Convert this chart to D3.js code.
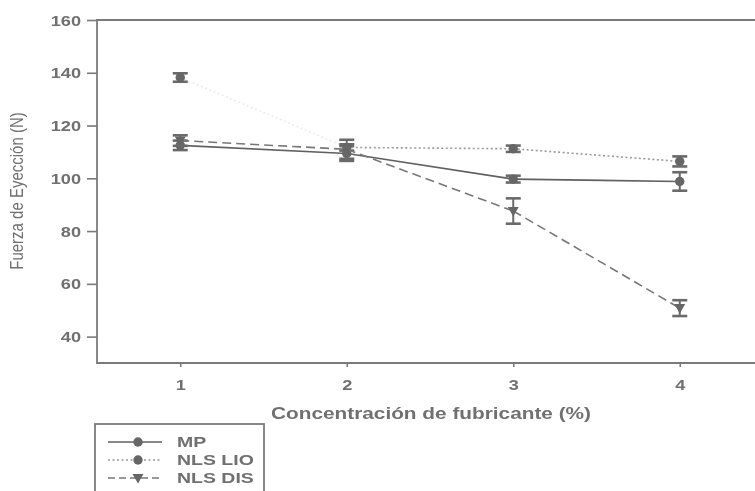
<!DOCTYPE html>
<html lang="en">
    <head>
        <meta charset="utf-8">
        <title>Fuerza de Eyección</title>
        <script src="https://d3js.org/d3.v7.min.js"></script>
        <style type="text/css">
        body { margin: 0; background: #fff; }
        text { font-family: "Liberation Sans", Arial, sans-serif; font-weight: bold; fill: #707070; }
        </style>
    </head>
    <body>
        <script type="text/javascript">

//1. data
const concentrations = [1, 2, 3, 4];
const seriesNames = ["MP", "NLS LIO", "NLS DIS"];
const mpValues  = [112.5, 109.4, 99.7, 98.8];
const mpErrors  = [1.8, 2.8, 1.3, 3.5];
const lioValues = [138.2, 111.7, 111.2, 106.4];
const lioErrors = [1.6, 1.2, 1.2, 1.9];
const disValues = [114.3, 111.0, 87.6, 50.8];
const disErrors = [2.0, 3.6, 4.8, 3.0];
const yTicks = [40, 60, 80, 100, 120, 140, 160];

//2. consts
const svgWidth = 755;
const svgHeight = 491;
const plotLeft = 97, plotTop = 20, plotBottom = 363, plotRight = 763;
const ink = "#6e6e6e";
const stretch = 1.3; // the scanned figure is wider than tall, text included

const series = [
    {name: seriesNames[0], values: mpValues,  errors: mpErrors,  dash: null,  color: "#606060", shape: d3.symbolCircle},
    {name: seriesNames[1], values: lioValues, errors: lioErrors, dash: "2,2.5", color: "#9a9a9a", shape: d3.symbolCircle},
    {name: seriesNames[2], values: disValues, errors: disErrors, dash: "9,5", color: "#777777", shape: "triangle"}
];

//3. scales
const xScale = d3.scaleLinear().domain([0.5, 4.5]).range([plotLeft, plotRight]);
const yScale = d3.scaleLinear().domain([30, 160]).range([plotBottom, plotTop]);

//4. svg
const svg = d3.select("body").append("svg")
    .attr("width", svgWidth)
    .attr("height", svgHeight);

const defs = svg.append("defs");
defs.append("filter").attr("id", "soft")
    .append("feGaussianBlur").attr("stdDeviation", 0.45);

const g = svg.append("g").attr("filter", "url(#soft)");

//5. axes
const leftAxis = d3.axisLeft(yScale).tickValues(yTicks).tickSize(10);
const yAxisG = g.append("g")
    .attr("transform", "translate(" + plotLeft + ",0)")
    .call(leftAxis);

const bottomAxis = d3.axisBottom(xScale).tickValues(concentrations)
    .tickFormat(d3.format("d")).tickSize(4).tickPadding(13);
const xAxisG = g.append("g")
    .attr("transform", "translate(0," + plotBottom + ")")
    .call(bottomAxis);

[yAxisG, xAxisG].forEach(a => {
    a.select(".domain").remove();
    a.selectAll("line").attr("stroke", "#7a7a7a").attr("stroke-width", 1.6);
    a.selectAll("text").attr("font-size", "14px").attr("fill", ink)
        .style("font-family", "'Liberation Sans', Arial, sans-serif")
        .attr("transform", "scale(" + stretch + ",1)");
});
yAxisG.selectAll("text").attr("x", -16 / stretch).attr("dy", "0.36em");

//frame (top, left, bottom)
g.append("path")
    .attr("d", "M" + plotRight + "," + plotTop + "H" + plotLeft + "V" + plotBottom + "H" + plotRight)
    .attr("fill", "none")
    .attr("stroke", "#7a7a7a")
    .attr("stroke-width", 1.8);

//6. lines, error bars, markers
const line = d3.line()
    .x(d => xScale(d.x))
    .y(d => yScale(d.y));

function marker(shape) {
    if (shape === "triangle") {
        return "M-5.5,-4L5.5,-4L0,5.5Z";
    }
    return d3.symbol().type(shape).size(70)();
}

series.forEach(s => {
    const pts = s.values.map((v, i) => ({x: concentrations[i], y: v, e: s.errors[i]}));

    // segments drawn one by one: the first dotted one is almost washed out in the scan
    d3.pairs(pts).forEach((p, i) => {
        g.append("path")
            .datum(p)
            .attr("d", line)
            .attr("fill", "none")
            .attr("stroke", s.color)
            .attr("stroke-width", 1.6)
            .attr("stroke-dasharray", s.dash)
            .attr("opacity", (s.name === "NLS LIO" && i === 0) ? 0.2 : 1);
    });

    const pg = g.selectAll(null)
        .data(pts)
        .enter().append("g");

    pg.append("line")
        .attr("x1", d => xScale(d.x)).attr("x2", d => xScale(d.x))
        .attr("y1", d => yScale(d.y - d.e)).attr("y2", d => yScale(d.y + d.e))
        .attr("stroke", "#6a6a6a").attr("stroke-width", 2);
    pg.selectAll(null)
        .data(d => [{x: d.x, y: d.y - d.e}, {x: d.x, y: d.y + d.e}])
        .enter().append("line")
        .attr("x1", d => xScale(d.x) - 7.5).attr("x2", d => xScale(d.x) + 7.5)
        .attr("y1", d => yScale(d.y)).attr("y2", d => yScale(d.y))
        .attr("stroke", "#6a6a6a").attr("stroke-width", 2.6);
    pg.append("path")
        .attr("d", marker(s.shape))
        .attr("transform", d => "translate(" + xScale(d.x) + "," + yScale(d.y) + ")")
        .attr("fill", "#666666");
});

//7. titles
g.append("text")
    .attr("transform", "translate(431,419) scale(" + stretch + ",1)")
    .attr("text-anchor", "middle")
    .attr("font-size", "16px")
    .text("Concentración de fubricante (%)");

g.append("text")
    .attr("transform", "translate(23,191) rotate(-90) scale(1,1.25)")
    .attr("text-anchor", "middle")
    .attr("font-size", "15px")
    .style("font-weight", "normal")
    .text("Fuerza de Eyección (N)");

//8. legend
const legend = g.append("g");
legend.append("rect")
    .attr("x", 95).attr("y", 424)
    .attr("width", 169).attr("height", 90)
    .attr("fill", "none")
    .attr("stroke", "#7a7a7a")
    .attr("stroke-width", 1.8);

const legendY = d3.scaleBand().domain(seriesNames).range([433, 487]);
series.forEach(s => {
    const cy = legendY(s.name) + legendY.bandwidth() / 2;
    legend.append("line")
        .attr("x1", 108).attr("x2", 162)
        .attr("y1", cy).attr("y2", cy)
        .attr("stroke", s.color)
        .attr("stroke-width", 1.6)
        .attr("stroke-dasharray", s.dash ? (s.dash === "9,5" ? "7,4" : s.dash) : null);
    legend.append("path")
        .attr("d", marker(s.shape))
        .attr("transform", "translate(138," + cy + ")")
        .attr("fill", "#666666");
    legend.append("text")
        .attr("transform", "translate(177," + cy + ") scale(" + stretch + ",1)")
        .attr("dy", "0.36em")
        .attr("font-size", "15px")
        .text(s.name);
});

</script>
</body>
</html>
